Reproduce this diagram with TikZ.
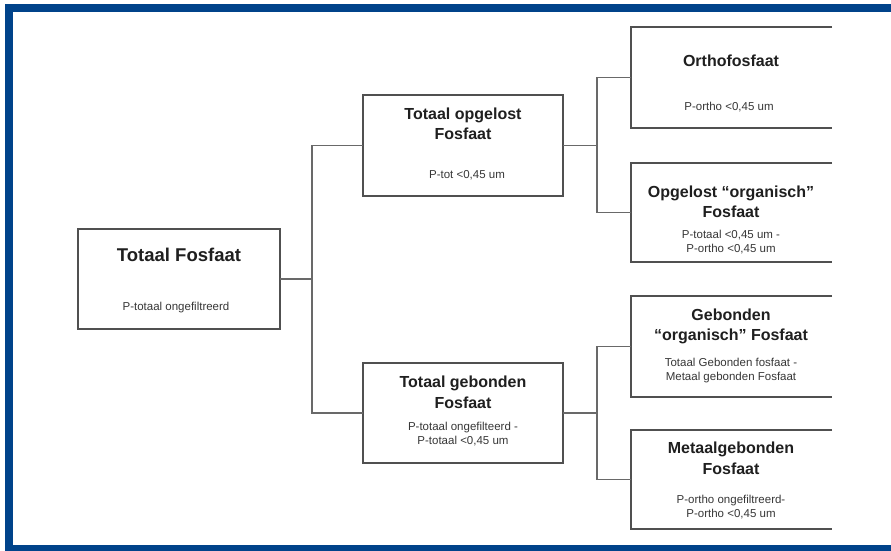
\documentclass[tikz,border=0pt]{standalone}
\usepackage{fontspec}
\setmainfont{Liberation Sans}
\definecolor{frameblue}{RGB}{0,67,138}
\definecolor{boxline}{RGB}{80,80,80}
\definecolor{conline}{RGB}{105,105,105}
\definecolor{subgray}{RGB}{55,55,55}
\begin{document}
\begin{tikzpicture}[x=1pt,y=-1pt,
  box/.style={draw=boxline, line width=1.4pt, inner sep=0pt, outer sep=0pt, fill=white},
  openbox/.style={draw=none, inner sep=0pt, outer sep=0pt, minimum width=201pt},
  con/.style={draw=conline, line width=1.4pt},
  side/.style={draw=boxline, line width=1.4pt},
  ttl/.style={font=\bfseries\fontsize{16}{20.5}\selectfont, align=center, text=black!88, inner sep=0pt},
  bigttl/.style={font=\bfseries\fontsize{18.5}{22}\selectfont, align=center, text=black!88, inner sep=0pt},
  sub/.style={font=\fontsize{11.5}{14}\selectfont, align=center, text=subgray, inner sep=0pt}]
\useasboundingbox (0,0) rectangle (891,551);
\fill[frameblue] (5,4) rectangle (891,551);
\fill[white] (13,12) rectangle (891,545);

% boxes
\node[box, minimum width=202pt, minimum height=100pt] (tf) at (179,279) {};
\node[box, minimum width=200pt, minimum height=101pt] (opg) at (463,145.5) {};
\node[box, minimum width=200pt, minimum height=100pt] (geb) at (463,413) {};
\node[openbox, minimum height=101pt] (ortho) at (731.5,77.5) {};
\node[openbox, minimum height=99pt] (organ) at (731.5,212.5) {};
\node[openbox, minimum height=101pt] (gorg) at (731.5,346.5) {};
\node[openbox, minimum height=99pt] (metaal) at (731.5,479.5) {};
\foreach \b in {ortho,organ,gorg,metaal}
  \draw[side] (\b.north east) -- (\b.north west) -- (\b.south west) -- (\b.south east);

% connectors
\coordinate (j1) at (312,279);
\coordinate (j2) at (597,145.5);
\coordinate (j3) at (597,413);
\draw[con] (tf.east) -- (j1);
\draw[con] (opg.west) -- (opg.west -| j1) -- (geb.west -| j1) -- (geb.west);
\draw[con] (opg.east) -- (j2);
\draw[con] (ortho.west) -- (ortho.west -| j2) -- (organ.west -| j2) -- (organ.west);
\draw[con] (geb.east) -- (j3);
\draw[con] (gorg.west) -- (gorg.west -| j3) -- (metaal.west -| j3) -- (metaal.west);

% texts
\node[bigttl] (tft) at (179,255) {Totaal Fosfaat};
\node[sub] (tfs) at (176,308) {P-totaal ongefiltreerd};
\node[ttl] (opgt) at (463,124) {Totaal opgelost\\Fosfaat};
\node[sub] (opgs) at (467,175) {P-tot <0,45 um};
\node[ttl] (gebt) at (463,392.5) {Totaal gebonden\\Fosfaat};
\node[sub] (gebs) at (463,434.5) {P-totaal ongefilteerd -\\P-totaal <0,45 um};
\node[ttl] (orthot) at (731,61) {Orthofosfaat};
\node[sub] (orthos) at (729,107) {P-ortho <0,45 um};
\node[ttl] (organt) at (731,202) {Opgelost “organisch”\\Fosfaat};
\node[sub] (organs) at (731,242) {P-totaal <0,45 um -\\P-ortho <0,45 um};
\node[ttl] (gorgt) at (731,326.5) {Gebonden\\“organisch” Fosfaat};
\node[sub] (gorgs) at (731,370.5) {Totaal Gebonden fosfaat -\\Metaal gebonden Fosfaat};
\node[ttl] (metaalt) at (731,458.5) {Metaalgebonden\\Fosfaat};
\node[sub] (metaals) at (731,507.5) {P-ortho ongefiltreerd-\\P-ortho <0,45 um};
\end{tikzpicture}
\end{document}
